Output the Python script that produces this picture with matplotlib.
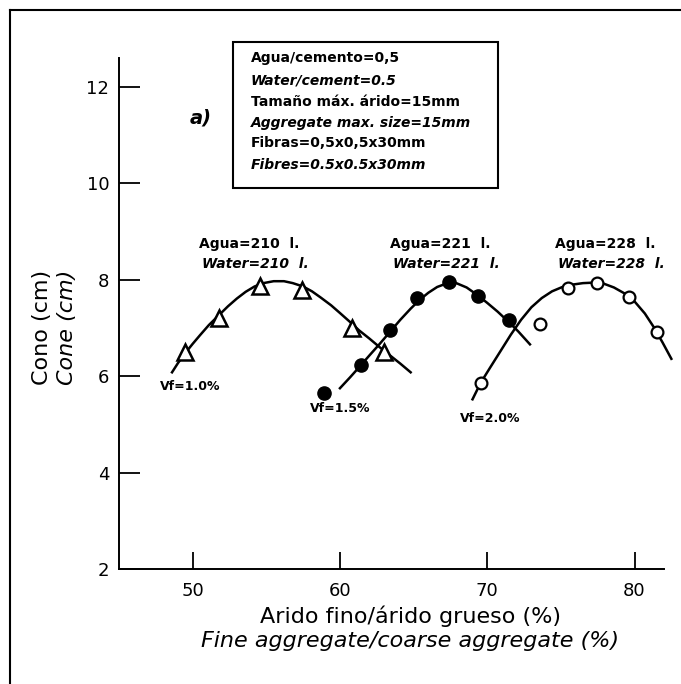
import matplotlib
matplotlib.use('Agg')
import matplotlib.pyplot as plt
from matplotlib.lines import Line2D
from matplotlib.patches import Rectangle

vf10_x = [49.5, 51.8, 54.6, 57.4, 60.8, 63.0]
vf10_y = [6.50, 7.21, 7.87, 7.78, 7.00, 6.50]
vf15_x = [58.9, 61.4, 63.4, 65.2, 67.4, 69.4, 71.5]
vf15_y = [5.66, 6.24, 6.96, 7.62, 7.95, 7.67, 7.16]
vf20_x = [69.55, 73.55, 75.5, 77.45, 79.6, 81.5]
vf20_y = [5.86, 7.09, 7.83, 7.93, 7.65, 6.91]

# Fitted curves
fit10_x = [48.6, 49.0, 49.5, 50.0, 50.5, 51.1, 51.8, 52.4, 53.0, 53.6, 54.2, 54.8, 55.5, 56.2,
           56.8, 57.5, 58.1, 58.7, 59.4, 60.0, 60.7, 61.3, 62.0, 62.7, 63.4, 64.1, 64.8]
fit10_y = [6.08, 6.27, 6.48, 6.67, 6.85, 7.06, 7.27, 7.45, 7.61, 7.75, 7.86, 7.93, 7.97, 7.97,
           7.93, 7.86, 7.76, 7.63, 7.47, 7.31, 7.12, 6.95, 6.78, 6.60, 6.43, 6.26, 6.08]
fit15_x = [60.0, 60.7, 61.4, 62.0, 62.7, 63.4, 64.1, 64.8, 65.4, 66.0, 66.6, 67.3, 67.9,
           68.6, 69.3, 70.0, 70.7, 71.4, 72.1, 72.9]
fit15_y = [5.75, 5.98, 6.22, 6.43, 6.67, 6.92, 7.17, 7.40, 7.58, 7.73, 7.85, 7.93, 7.93,
           7.84, 7.69, 7.52, 7.34, 7.14, 6.93, 6.66]
fit20_x = [69.0, 69.55, 70.2, 70.9, 71.6, 72.3, 73.0, 73.7, 74.4, 75.1, 75.8, 76.5, 77.2,
           77.9, 78.6, 79.3, 80.0, 80.7, 81.3, 81.9, 82.5]
fit20_y = [5.52, 5.86, 6.18, 6.52, 6.86, 7.17, 7.43, 7.62, 7.76, 7.85, 7.90, 7.93, 7.94,
           7.92, 7.84, 7.72, 7.55, 7.30, 7.02, 6.70, 6.36]

x_ticks = [50, 60, 70, 80]
y_ticks = [2, 4, 6, 8, 10, 12]

info_lines = ["Agua/cemento=0,5", "Water/cement=0.5",
              "Tamaño máx. árido=15mm", "Aggregate max. size=15mm",
              "Fibras=0,5x0,5x30mm", "Fibres=0.5x0.5x30mm"]

W, H = 681, 684

def fx(px):
    return px / W

def fy(py):
    return 1 - py / H

fig = plt.figure(figsize=(W / 100, H / 100), dpi=100)
ax = fig.add_axes([fx(119), fy(569), fx(664) - fx(119), fy(58) - fy(569)])

lw = 1.8
ax.plot(fit10_x, fit10_y, color='black', lw=lw, clip_on=False)
ax.plot(fit15_x, fit15_y, color='black', lw=lw, clip_on=False)
ax.plot(fit20_x, fit20_y, color='black', lw=lw, clip_on=False)

ax.plot(vf10_x, vf10_y, ls='none', marker='^', ms=11, mfc='white', mec='black', mew=1.8, clip_on=False)
ax.plot(vf15_x, vf15_y, ls='none', marker='o', ms=9.5, mfc='black', mec='black', clip_on=False)
ax.plot(vf20_x, vf20_y, ls='none', marker='o', ms=8.5, mfc='white', mec='black', mew=1.6, clip_on=False)

ax.set_xlim(45, 82)
ax.set_ylim(2, 12.6)
ax.set_xticks(x_ticks)
ax.set_yticks(y_ticks)
ax.spines['top'].set_visible(False)
ax.spines['right'].set_visible(False)
for s in ['left', 'bottom']:
    ax.spines[s].set_linewidth(1.4)
ax.tick_params(axis='x', direction='in', length=12, width=1.3, pad=9, labelsize=13)
ax.tick_params(axis='y', direction='in', length=15, width=1.3, pad=7, labelsize=13)

# axis titles, Spanish and English
fig.text(fx(410), fy(616), "Arido fino/árido grueso (%)", fontsize=16, ha='center', va='center')
fig.text(fx(410), fy(641), "Fine aggregate/coarse aggregate (%)", fontsize=16,
         style='italic', ha='center', va='center')
fig.text(fx(42), fy(327), "Cono (cm)", fontsize=16, rotation=90, ha='center', va='center')
fig.text(fx(67), fy(327), "Cone (cm)", fontsize=16, style='italic', rotation=90,
         ha='center', va='center')

# info box
fig.patches.append(Rectangle((fx(233), fy(188)), fx(498) - fx(233), fy(42) - fy(188),
                             transform=fig.transFigure, fill=False, lw=1.5, ec='black'))
box_y = [58, 80, 102, 123, 143, 165]
for i, (txt, py) in enumerate(zip(info_lines, box_y)):
    fig.text(fx(251), fy(py), txt, fontsize=10, fontweight='bold',
             style='italic' if i % 2 else 'normal', ha='left', va='center')

fig.text(fx(201), fy(118), "a)", fontsize=14, fontweight='bold', style='italic',
         ha='center', va='center')

# water labels
for cx, w in [(249, "210"), (440, "221"), (605, "228")]:
    fig.text(fx(cx), fy(244), "Agua=%s  l." % w, fontsize=10, fontweight='bold',
             ha='center', va='center')
    fig.text(fx(cx + 6), fy(264), "Water=%s  l." % w, fontsize=10, fontweight='bold',
             style='italic', ha='center', va='center')

for cx, cy, t in [(190, 387, "Vf=1.0%"), (340, 408, "Vf=1.5%"), (490, 418, "Vf=2.0%")]:
    fig.text(fx(cx), fy(cy), t, fontsize=9, fontweight='bold', ha='center', va='center')

# outer frame (left and top edges)
fig.lines.append(Line2D([fx(10), fx(10)], [0, fy(10)], transform=fig.transFigure,
                        color='black', lw=1.5))
fig.lines.append(Line2D([fx(10), 1], [fy(10), fy(10)], transform=fig.transFigure,
                        color='black', lw=1.5))

fig.savefig('out.png', dpi=100)
